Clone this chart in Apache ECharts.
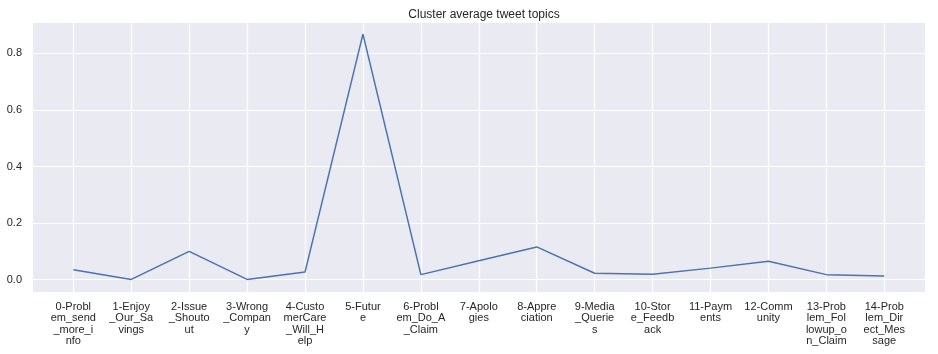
<!DOCTYPE html>
<html>
<head>
<meta charset="utf-8">
<script src="https://cdn.jsdelivr.net/npm/echarts@6/dist/echarts.min.js"></script>
<style>
  html, body { margin: 0; padding: 0; background: #fff; }
  #chart { width: 938px; height: 354px; }
</style>
</head>
<body>
<div id="chart"></div>
<script>
// topic labels, already wrapped as in the source figure
const topics = [
  '0-Probl\nem_send\n_more_i\nnfo',
  '1-Enjoy\n_Our_Sa\nvings',
  '2-Issue\n_Shouto\nut',
  '3-Wrong\n_Compan\ny',
  '4-Custo\nmerCare\n_Will_H\nelp',
  '5-Futur\ne',
  '6-Probl\nem_Do_A\n_Claim',
  '7-Apolo\ngies',
  '8-Appre\nciation',
  '9-Media\n_Querie\ns',
  '10-Stor\ne_Feedb\nack',
  '11-Paym\nents',
  '12-Comm\nunity',
  '13-Prob\nlem_Fol\nlowup_o\nn_Claim',
  '14-Prob\nlem_Dir\nect_Mes\nsage'
];

const avgValues = [0.035, 0.001, 0.100, 0.001, 0.027, 0.868, 0.018, 0.067, 0.116,
  0.023, 0.019, 0.041, 0.065, 0.018, 0.013];

const yMin = -0.0434;
const yMax = 0.911;

const chart = echarts.init(document.getElementById('chart'));
const font = 'Liberation Sans, Arial, sans-serif';
const textColor = '#262626';

const option = {
  animation: false,
  title: {
    text: 'Cluster average tweet topics',
    left: 479,
    textAlign: 'center',
    top: 4,
    textStyle: { fontFamily: font, fontSize: 12, fontWeight: 'normal', color: textColor }
  },
  grid: [
    // full plot area: background + horizontal grid lines
    { left: 33, right: 13, top: 22, bottom: 62, show: true, backgroundColor: '#EAEAF2', borderWidth: 0 },
    // inner grid: category positions (matplotlib margins of 0.7 step)
    { left: 73.3, right: 53.7, top: 22, bottom: 62 }
  ],
  xAxis: [
    { gridIndex: 0, type: 'value', min: 0, max: 1, show: false },
    {
      gridIndex: 1,
      type: 'category',
      data: topics,
      boundaryGap: false,
      axisLine: { show: false },
      axisTick: { show: false },
      splitLine: { show: true, lineStyle: { color: '#ffffff', width: 1.2 } },
      axisLabel: {
        interval: 0,
        margin: 9,
        fontFamily: font,
        fontSize: 11,
        lineHeight: 11.5,
        color: textColor,
        align: 'center',
        verticalAlign: 'top'
      }
    }
  ],
  yAxis: [
    {
      gridIndex: 0,
      type: 'value',
      min: yMin,
      max: yMax,
      axisLine: { show: false },
      axisTick: { show: false },
      splitLine: { show: true, lineStyle: { color: '#ffffff', width: 1.2 } },
      axisLabel: {
        margin: 11,
        fontFamily: font,
        fontSize: 11,
        color: textColor,
        formatter: function (v) {
          const r = Math.round(v * 10) / 10;
          if (Math.abs(v - r) > 1e-6 || Math.abs(r * 5 - Math.round(r * 5)) > 1e-6) return '';
          return r.toFixed(1);
        }
      }
    },
    { gridIndex: 1, type: 'value', min: yMin, max: yMax, show: false, splitLine: { show: false } }
  ],
  series: [
    {
      type: 'line',
      xAxisIndex: 1,
      yAxisIndex: 1,
      data: avgValues,
      symbol: 'none',
      lineStyle: { color: '#4C72B0', width: 1.5 }
    }
  ]
};

chart.setOption(option);
</script>
</body>
</html>
